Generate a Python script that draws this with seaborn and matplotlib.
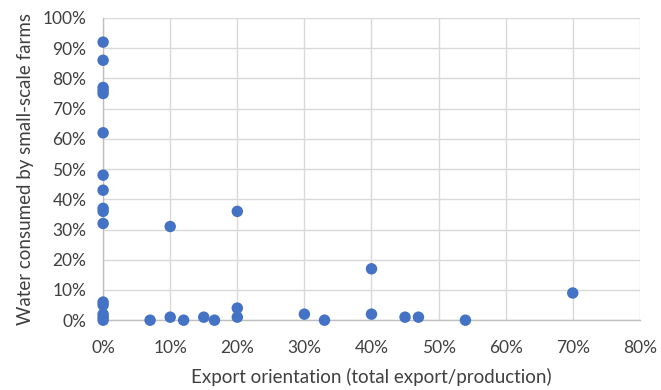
import matplotlib
matplotlib.use("Agg")
import matplotlib.pyplot as plt
import seaborn as sns
import pandas as pd
from matplotlib.ticker import PercentFormatter, MultipleLocator

# Export orientation (share of production exported) per product/region
export_share = [0, 0, 0, 0, 0, 0, 0, 0, 0, 0, 0, 0, 0, 0, 0, 0,
                7, 10, 10, 12, 15, 16.6, 20, 20, 20,
                30, 33, 40, 40, 45, 47, 54, 70]
# Share of water consumed by small-scale farms
smallscale_water = [92, 86, 77, 76, 75, 62, 48, 43, 37, 36, 32, 6, 5, 2, 1, 0,
                    0, 31, 1, 0, 1, 0, 36, 4, 1,
                    2, 0, 17, 2, 1, 1, 0, 9]

df = pd.DataFrame({"export": export_share, "water": smallscale_water})

sns.set_theme(style="white")
plt.rcParams["font.family"] = ["Lato", "DejaVu Sans"]

fig = plt.figure(figsize=(6.61, 3.90), dpi=100)
ax = fig.add_axes([0.156, 0.179, 0.812, 0.775])

sns.scatterplot(data=df, x="export", y="water", ax=ax, color="#4472C4",
                s=68, edgecolor="none", zorder=3, clip_on=False)

ax.set_xlim(0, 80)
ax.set_ylim(0, 100)
ax.xaxis.set_major_locator(MultipleLocator(10))
ax.yaxis.set_major_locator(MultipleLocator(10))
ax.xaxis.set_major_formatter(PercentFormatter(decimals=0))
ax.yaxis.set_major_formatter(PercentFormatter(decimals=0))

ax.grid(True, color="#D9D9D9", linewidth=1.0)
ax.set_axisbelow(True)
for side in ["top", "right"]:
    ax.spines[side].set_visible(False)
for side in ["left", "bottom"]:
    ax.spines[side].set_color("#BFBFBF")
    ax.spines[side].set_linewidth(1.0)

ax.tick_params(axis="x", length=0, labelsize=12.5, colors="#404040", pad=14)
ax.tick_params(axis="y", length=0, labelsize=12.5, colors="#404040", pad=12)
ax.set_xlabel("Export orientation (total export/production)", fontsize=13.5,
              color="#404040", labelpad=9)
ax.set_ylabel("Water consumed by small-scale farms", fontsize=13.5,
              color="#404040", labelpad=6)

fig.savefig("out.png", dpi=100)
